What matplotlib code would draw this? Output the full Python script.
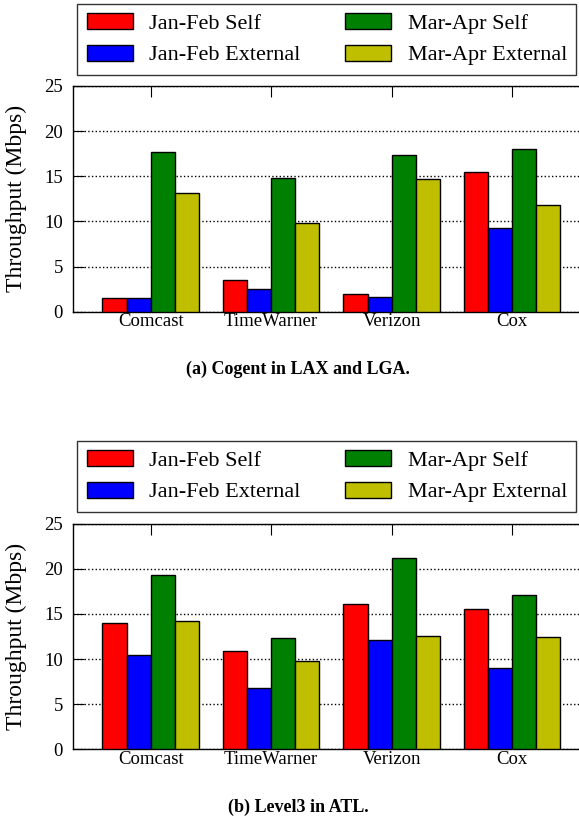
import numpy as np
import matplotlib
matplotlib.use("Agg")
import matplotlib.pyplot as plt

# ISP groups and series (throughput in Mbps)
isps = ["Comcast", "TimeWarner", "Verizon", "Cox"]
series_names = ["Jan-Feb Self", "Jan-Feb External", "Mar-Apr Self", "Mar-Apr External"]
series_colors = ["#ff0000", "#0000ff", "#008000", "#bfbf00"]

# (a) Cogent in LAX and LGA
cogent_jan_self = [1.5, 3.5, 2.0, 15.45]
cogent_jan_ext = [1.5, 2.5, 1.65, 9.3]
cogent_mar_self = [17.7, 14.8, 17.4, 18.0]
cogent_mar_ext = [13.1, 9.85, 14.7, 11.8]

# (b) Level3 in ATL
level3_jan_self = [14.0, 10.85, 16.1, 15.55]
level3_jan_ext = [10.45, 6.8, 12.1, 9.0]
level3_mar_self = [19.35, 12.3, 21.2, 17.1]
level3_mar_ext = [14.2, 9.8, 12.6, 12.4]

plt.rcParams['font.family'] = ['Liberation Serif', 'DejaVu Serif']

W, H = 579, 818


def draw_panel(fig, rect, values, caption, legend_top, caption_y):
    ax = fig.add_axes(rect)
    x = np.arange(len(isps))
    width = 0.2
    handles = []
    for k, (vals, col) in enumerate(zip(values, series_colors)):
        b = ax.bar(x + (k - 1.5) * width, vals, width, color=col,
                   edgecolor='black', linewidth=1.0, label=series_names[k], zorder=3)
        handles.append(b)

    ax.set_xlim(-0.647, 3.647)
    ax.set_ylim(0, 25)
    ax.set_yticks([0, 5, 10, 15, 20, 25])
    ax.set_xticks(x)
    ax.set_xticklabels(isps, fontsize=13.5)
    ax.tick_params(axis='y', labelsize=13.5, direction='in', length=8, pad=7,
                   left=True, right=False)
    ax.tick_params(axis='x', direction='in', length=8, pad=1,
                   bottom=False, top=True, labelbottom=True)
    ax.yaxis.grid(True, linestyle=':', color='black', linewidth=1.0, zorder=0)
    ax.set_axisbelow(True)
    for s in ax.spines.values():
        s.set_linewidth(1.0)
    ax.set_ylabel('Throughput (Mbps)', fontsize=17)
    ax.yaxis.set_label_coords((27 - 72.7) / 517.4, 0.5)

    # legend sits above the axes, in figure coordinates
    fig.legend(handles=handles, labels=series_names, ncol=2, fontsize=16,
               loc='upper left', bbox_to_anchor=(77.3 / W, legend_top),
               bbox_transform=fig.transFigure, borderaxespad=0,
               frameon=True, fancybox=False, edgecolor='black',
               handlelength=2.07, handleheight=0.72, handletextpad=0.75,
               columnspacing=2.0, borderpad=0.42, labelspacing=0.48)
    fig.legends[-1].get_frame().set_linewidth(1.0)

    fig.text(0.515, caption_y, caption, ha='center', va='center',
             fontsize=13, fontweight='bold')
    return ax


fig = plt.figure(figsize=(W / 100, H / 100), dpi=100)

draw_panel(fig, [72.7 / W, 1 - 311.7 / H, 517.4 / W, 225.7 / H],
           [cogent_jan_self, cogent_jan_ext, cogent_mar_self, cogent_mar_ext],
           '(a) Cogent in LAX and LGA.', 1 - 4 / H, 1 - 369 / H)

draw_panel(fig, [72.7 / W, 1 - 749.3 / H, 517.4 / W, 225.5 / H],
           [level3_jan_self, level3_jan_ext, level3_mar_self, level3_mar_ext],
           '(b) Level3 in ATL.', 1 - 441 / H, 1 - 807 / H)

fig.savefig('out.png', dpi=100)
